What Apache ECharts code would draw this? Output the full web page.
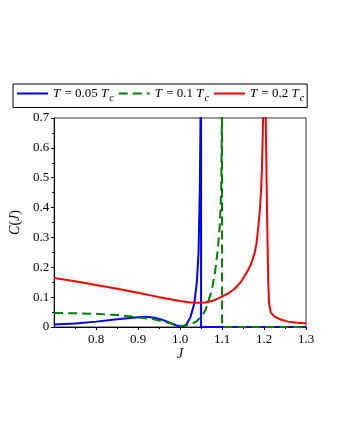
<!DOCTYPE html>
<html><head><meta charset="utf-8">
<script src="https://cdn.jsdelivr.net/npm/echarts@6/dist/echarts.min.js"></script>
<style>html,body{margin:0;padding:0;background:#fff}#c{width:340px;height:440px}</style>
</head><body><div id="c"></div>
<script>
var seriesNames = ['T = 0.05 T_c', 'T = 0.1 T_c', 'T = 0.2 T_c'];
var legendLabels = ['{i|T} = 0.05 {i|T}{s|c}', '{i|T} = 0.1 {i|T}{s|c}', '{i|T} = 0.2 {i|T}{s|c}'];
var xTicks = [0.8, 0.9, 1.0, 1.1, 1.2, 1.3];
var yTicks = [0, 0.1, 0.2, 0.3, 0.4, 0.5, 0.6, 0.7];

var J1 = [0.70,0.75,0.80,0.85,0.90,0.92,0.94,0.96,0.98,0.99,1.00,1.01,1.016,1.025,1.034,1.04,1.044,1.047,1.049,1.05,1.05,1.10,1.20,1.30];
var C1 = [0.008,0.012,0.018,0.026,0.033,0.034,0.031,0.023,0.012,0.006,0.002,0.004,0.010,0.034,0.080,0.150,0.250,0.460,0.750,1.000,0,0,0,0];

var J2 = [0.70,0.75,0.80,0.85,0.90,0.94,0.97,0.99,1.00,1.01,1.02,1.03,1.04,1.05,1.06,1.067,1.075,1.083,1.09,1.095,1.098,1.0995,1.10,1.10,1.20,1.30];
var C2 = [0.047,0.046,0.044,0.040,0.033,0.025,0.015,0.007,0.004,0.004,0.007,0.012,0.020,0.034,0.055,0.085,0.120,0.180,0.260,0.350,0.460,0.700,1.000,0,0,0];

var J3 = [0.70,0.75,0.80,0.85,0.90,0.95,1.00,1.02,1.04,1.06,1.08,1.10,1.115,1.13,1.146,1.162,1.170,1.178,1.182,1.186,1.190,1.193,1.195,1.197,1.199,1.200,1.202,1.204,1.207,1.210,1.212,1.216,1.225,1.24,1.257,1.28,1.30];
var C3 = [0.164,0.153,0.141,0.128,0.115,0.100,0.087,0.083,0.081,0.082,0.089,0.102,0.113,0.128,0.153,0.190,0.215,0.250,0.280,0.330,0.390,0.460,0.530,0.650,0.800,1.000,1.000,0.700,0.400,0.150,0.080,0.048,0.035,0.025,0.018,0.014,0.012];

function pairs(xs, ys){ return xs.map(function(x,i){ return [x, ys[i]]; }); }

var font = 'Liberation Serif';
var chart = echarts.init(document.getElementById('c'));
chart.setOption({
  animation: false,
  backgroundColor: '#fff',
  legend: {
    left: 13, top: 84,
    padding: [3, 3, 4, 3],
    borderColor: '#000', borderWidth: 1,
    itemWidth: 31, itemHeight: 14, itemGap: 4,
    data: seriesNames,
    itemStyle: {opacity: 0},
    formatter: function(n){ return legendLabels[seriesNames.indexOf(n)]; },
    textStyle: {
      fontFamily: font, fontSize: 13, color: '#000',
      rich: {
        i: {fontFamily: font, fontSize: 13, fontStyle: 'italic', color: '#000', padding: [0, 1, 0, 0]},
        s: {fontFamily: font, fontSize: 10, fontStyle: 'italic', color: '#000', padding: [10, 0, 0, 0]}
      }
    }
  },
  grid: {left: 51, right: 34, top: 118, bottom: 113, show: true, borderColor: '#333', borderWidth: 1},
  xAxis: {
    type: 'value', min: 0.7, max: 1.3, interval: 0.1,
    name: '{i|J}', nameLocation: 'middle', nameGap: 18,
    nameTextStyle: {rich: {i: {fontFamily: font, fontStyle: 'italic', fontSize: 14, color: '#000'}}},
    axisLine: {show: true, lineStyle: {color: '#000'}},
    axisTick: {show: true, length: 3, lineStyle: {color: '#000'},
      customValues: xTicks},
    minorTick: {show: true, splitNumber: 2, length: 2, lineStyle: {color: '#000'}},
    axisLabel: {fontFamily: font, fontSize: 13, color: '#000', margin: 6,
      customValues: xTicks,
      formatter: function(v){ return v.toFixed(1); }},
    splitLine: {show: false}
  },
  yAxis: {
    type: 'value', min: 0, max: 0.7, interval: 0.1,
    name: '{i|C}({i|J})', nameLocation: 'middle', nameGap: 25, nameRotate: 90,
    nameTextStyle: {fontFamily: font, fontSize: 14, color: '#000',
      rich: {i: {fontFamily: font, fontStyle: 'italic', fontSize: 14, color: '#000'}}},
    axisLine: {show: true, lineStyle: {color: '#000'}},
    axisTick: {show: true, length: 3, lineStyle: {color: '#000'}},
    minorTick: {show: true, splitNumber: 2, length: 2, lineStyle: {color: '#000'}},
    axisLabel: {fontFamily: font, fontSize: 13, color: '#000', margin: 5,
      formatter: function(v){ return v === 0 ? '0' : v.toFixed(1); }},
    splitLine: {show: false}
  },
  series: [
    {name: seriesNames[0], type: 'line', symbol: 'none', clip: true, data: pairs(J1, C1),
     lineStyle: {color: '#0000ff', width: 2}, itemStyle: {color: '#0000ff'}},
    {name: seriesNames[1], type: 'line', symbol: 'none', clip: true, data: pairs(J2, C2),
     lineStyle: {color: '#008000', width: 2, type: [9, 5]}, itemStyle: {color: '#008000'}},
    {name: seriesNames[2], type: 'line', symbol: 'none', clip: true, data: pairs(J3, C3),
     lineStyle: {color: '#ff0000', width: 2}, itemStyle: {color: '#ff0000'}}
  ]
});
</script></body></html>
